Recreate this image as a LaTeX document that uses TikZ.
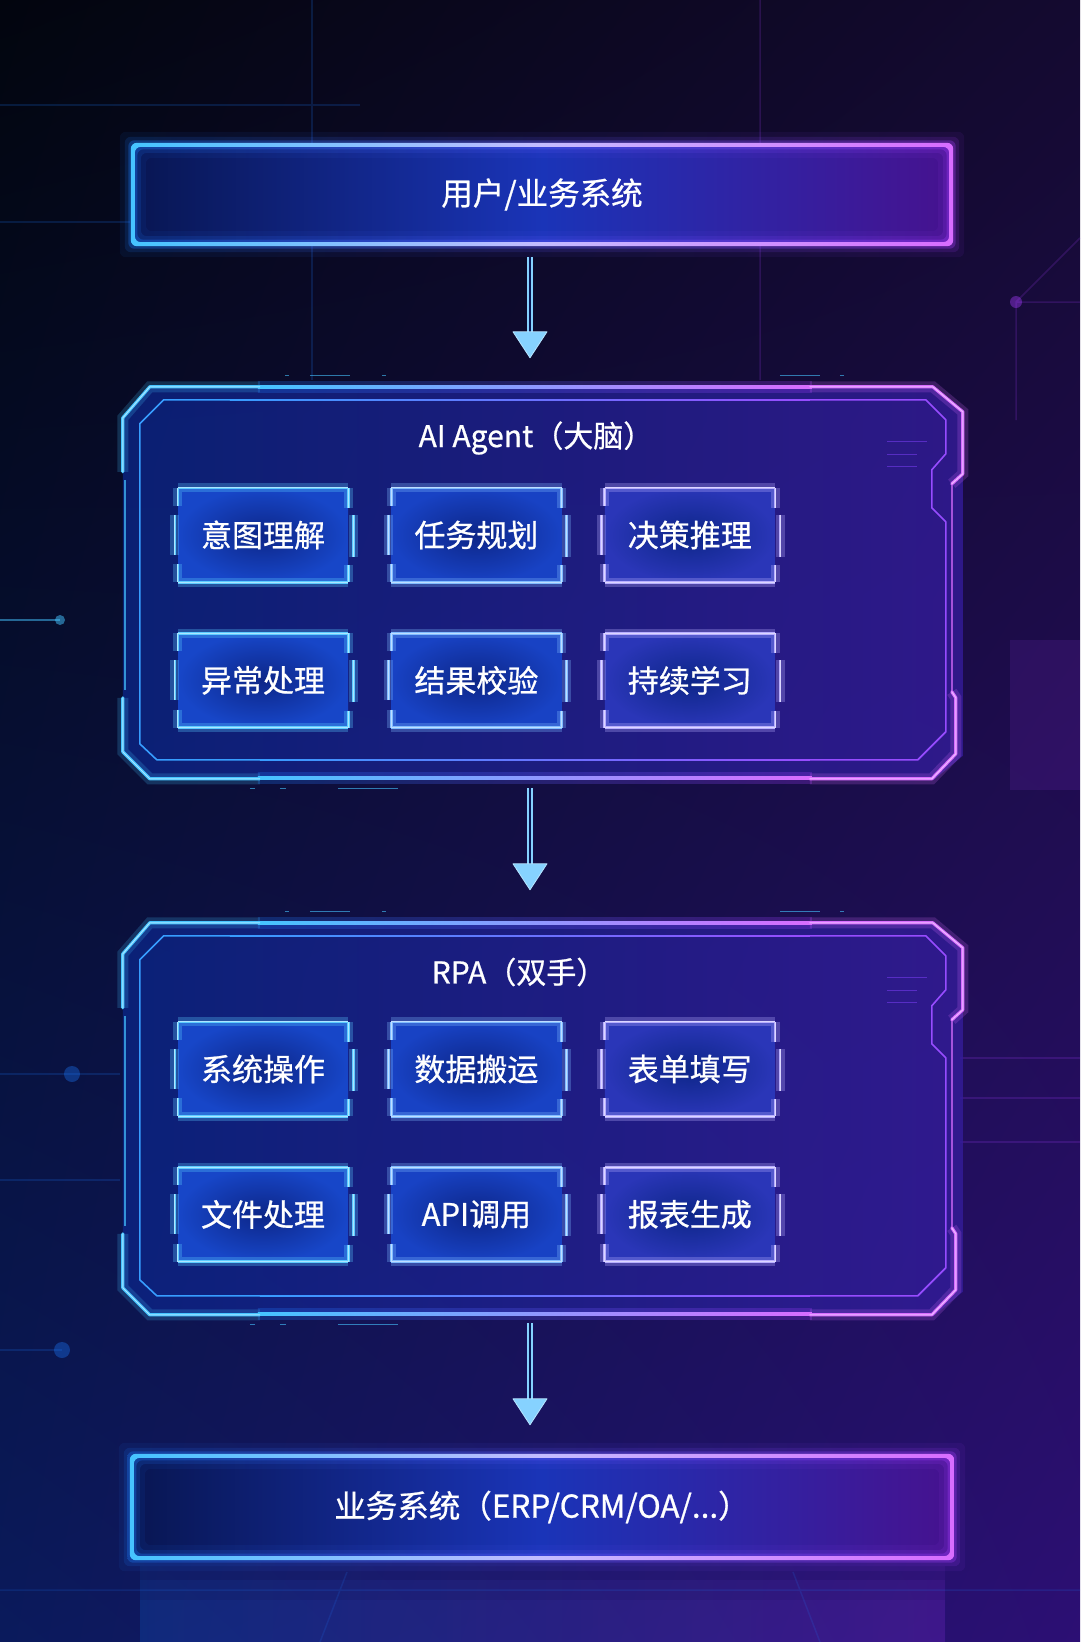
\documentclass[tikz,border=0pt]{standalone}
\usepackage{fontspec}
\newfontfamily\cjk{Noto Sans CJK SC}[FakeBold=0.7]
\usetikzlibrary{positioning,calc,shadings}
\definecolor{bgul}{HTML}{02050E}
\definecolor{bgur}{HTML}{140A30}
\definecolor{bgll}{HTML}{0A1A5C}
\definecolor{bglr}{HTML}{2C0F74}
\definecolor{neonl}{HTML}{45C4FF}
\definecolor{neonr}{HTML}{D86CFF}
\definecolor{glowl}{HTML}{1C7CFF}
\definecolor{glowr}{HTML}{A63CFF}
\definecolor{barl}{HTML}{081652}
\definecolor{barm}{HTML}{1A34B8}
\definecolor{barr}{HTML}{46128F}
\definecolor{hudl}{HTML}{0B2585}
\definecolor{hudr}{HTML}{341C9A}
\definecolor{cellin}{HTML}{0D2688}
\definecolor{cellA}{HTML}{1746C8}
\definecolor{cellB}{HTML}{1842C4}
\definecolor{cellC}{HTML}{2A36B8}
\definecolor{lineA}{HTML}{5CCBFF}
\definecolor{lineB}{HTML}{80BCFF}
\definecolor{lineC}{HTML}{B8AEFF}
\definecolor{tipblue}{HTML}{86D2FF}

\tikzset{
  hudglow/.style={draw=#1, line width=3.2pt, line join=round, line cap=round,
    preaction={draw=#1, line width=11pt, draw opacity=.2},
    postaction={draw=white, line width=1pt, draw opacity=.55}},
  hudthin/.style={draw=#1, line width=1.6pt, line join=round},
  hud/.pic={
    % panel
    \shade[left color=hudl, right color=hudr, opacity=.8]
      (3,34) -- (30,3) -- (813,3) -- (843,28) -- (843,372) -- (814,396) -- (30,396) -- (3,368) -- cycle;
    % long edges
    \shade[left color=glowl, right color=glowr, opacity=.25] (138,-2) rectangle (692,9);
    \shade[left color=glowl, right color=glowr, opacity=.25] (138,389) rectangle (692,400);
    \shade[left color=neonl, right color=neonr] (138,2) rectangle (692,5);
    \shade[left color=neonl, right color=neonr] (138,393) rectangle (692,396);
    \shade[left color=neonl!80!blue, right color=neonr!70!blue] (110,15.2) rectangle (690,16.8);
    \shade[left color=neonl!80!blue, right color=neonr!70!blue] (140,375.2) rectangle (690,376.8);
    % inner line
    \draw[hudthin=neonl!80!blue] (111,16) -- (44,16) -- (20,40) -- (20,360) -- (37,376) -- (141,376);
    \draw[hudthin=neonr!70!blue] (689,16) -- (806,16) -- (826,36) -- (826,70) -- (812,86) -- (812,124)
      -- (826,138) -- (826,348) -- (798,376) -- (689,376);
    % outer sides
    \draw[hudthin=neonl, draw opacity=.7] (5,96) -- (5,306);
    \draw[hudthin=neonr, draw opacity=.7] (832,100) -- (832,308);
    % corners
    \draw[hudglow=neonl] (3,88) -- (3,34) -- (30,3) -- (140,3);
    \draw[hudglow=neonl] (3,314) -- (3,368) -- (30,395) -- (140,395);
    \draw[hudglow=neonr] (690,3) -- (813,3) -- (843,28) -- (843,90) -- (832,100);
    \draw[hudglow=neonr] (832,308) -- (836,314) -- (836,370) -- (812,395) -- (690,395);
    % specks
    \draw[neonl, line width=1.2pt, opacity=.6] (165,-8) -- ++(4,0) (190,-8) -- ++(40,0) (262,-8) -- ++(4,0)
      (660,-8) -- ++(40,0) (720,-8) -- ++(4,0) (130,405) -- ++(5,0) (160,405) -- ++(6,0) (218,405) -- ++(60,0);
    \draw[neonr!60!blue, line width=1.2pt, opacity=.5] (767,58) -- ++(40,0) (767,71) -- ++(30,0) (767,83) -- ++(30,0);
  }
}

\begin{document}
\begin{tikzpicture}[x=1pt, y=-1pt,
  bar/.style={minimum width=818pt, minimum height=99pt, inner sep=0pt, rounded corners=6pt,
    left color=barl, right color=barr, middle color=barm,
    text=white, font=\cjk\fontsize{31.5}{36}\selectfont},
  panel/.style={minimum width=844pt, minimum height=398pt, inner sep=0pt},
  title/.style={text=white, font=\cjk\fontsize{30}{34}\selectfont},
  cell/.style={inner color=cellin, outer color=#1, minimum width=170pt, minimum height=94pt,
    inner sep=0pt, text=white, font=\cjk\fontsize{31}{36}\selectfont},
  cellglow/.style={draw=#1, line width=2.6pt,
    preaction={draw=#1, line width=9pt, draw opacity=.3},
    postaction={draw=white, line width=.8pt, draw opacity=.5}},
  shaft/.style={draw=tipblue, line width=1.4pt, double=barl, double distance=2.6pt},
  tip/.style={fill=tipblue, draw=tipblue!60!white, line width=.8pt, line join=round},
  trace/.style={draw=#1, line width=1.5pt, opacity=.18},
]
\useasboundingbox (0,0) rectangle (1080,1642);

% backdrop
\shade[upper left=bgul, upper right=bgur, lower left=bgll, lower right=bglr] (0,0) rectangle (1080,1642);
\draw[trace=glowl] (312,0) -- (312,380) (0,105) -- (360,105) (0,222) -- (130,222);
\draw[trace=glowr] (760,0) -- (760,380) (1080,238) -- (1016,302) -- (1016,420) (1016,302) -- (1080,302);
\fill[glowr, opacity=.4] (1016,302) circle (6);
\draw[trace=neonl, opacity=.5] (0,620) -- (60,620);
\fill[neonl, opacity=.5] (60,620) circle (5);
\fill[glowl, opacity=.35] (72,1074) circle (8) (62,1350) circle (8);
\draw[trace=glowl] (0,1074) -- (120,1074) (0,1180) -- (120,1180) (0,1350) -- (62,1350);
\draw[trace=glowr] (960,1058) -- (1080,1058) (960,1098) -- (1080,1098) (960,1142) -- (1080,1142);
\fill[glowr, opacity=.12] (1010,640) rectangle (1080,790);
\foreach \h/\o in {1566/.07, 1580/.07, 1600/.06} {
  \shade[left color=glowl, right color=glowr, opacity=\o] (140,\h) rectangle (945,1642);
}
\draw[trace=glowl, opacity=.15] (0,1590) -- (1080,1590) (347,1572) -- (320,1642) (793,1572) -- (820,1642);

% panels
\node[panel] (agent) at (542,583) {};
\pic at (agent.north west) {hud};
\node[panel] (rpa) at (542,1119) {};
\pic at (rpa.north west) {hud};

\node[title] (agenttitle) at (536,438) {AI Agent（大脑）};
\node[title] (rpatitle) at (519,972) {RPA（双手）};

% agent cells
\node[cell=cellA] (a1) at (263,535) {意图理解};
\node[cell=cellB, right=43pt of a1] (a2) {任务规划};
\node[cell=cellC, right=43pt of a2] (a3) {决策推理};
\node[cell=cellA, below=51pt of a1] (a4) {异常处理};
\node[cell=cellB, right=43pt of a4] (a5) {结果校验};
\node[cell=cellC, right=43pt of a5] (a6) {持续学习};

% rpa cells
\node[cell=cellA] (r1) at (263,1069) {系统操作};
\node[cell=cellB, right=43pt of r1] (r2) {数据搬运};
\node[cell=cellC, right=43pt of r2] (r3) {表单填写};
\node[cell=cellA, below=51pt of r1] (r4) {文件处理};
\node[cell=cellB, right=43pt of r4] (r5) {API调用};
\node[cell=cellC, right=43pt of r5] (r6) {报表生成};

\foreach \n/\c in {a1/lineA, a2/lineB, a3/lineC, a4/lineA, a5/lineB, a6/lineC,
                   r1/lineA, r2/lineB, r3/lineC, r4/lineA, r5/lineB, r6/lineC} {
  \draw[cellglow=\c] (\n.north west) -- (\n.north east) (\n.south west) -- (\n.south east)
    (\n.north west) -- ++(0,18) ($(\n.north west)+(-3,27)$) -- ++(0,40) ($(\n.south west)+(0,-18)$) -- (\n.south west)
    (\n.north east) -- ++(0,20) ($(\n.north east)+(5,27)$) -- ++(0,42) ($(\n.south east)+(0,-17)$) -- (\n.south east);
}

% bars
\node[bar] (user) at (542,194.5) {用户/业务系统};
\node[bar, minimum width=820pt, minimum height=102pt] (sys) at (542,1507) {业务系统（ERP/CRM/OA/...）};

\foreach \b in {user,sys} {
  \foreach \g/\o in {13/.07, 8/.14, 4.5/.3} {
    \shade[left color=glowl, right color=glowr, opacity=\o, even odd rule, rounded corners=6pt]
      ($(\b.north west)+(-\g,-\g)$) rectangle ($(\b.south east)+(\g,\g)$)
      ($(\b.north west)+(\g,\g)$) rectangle ($(\b.south east)+(-\g,-\g)$);
  }
  \shade[left color=neonl, right color=neonr, middle color=neonl!40!neonr!60!white, even odd rule, rounded corners=6pt]
    ($(\b.north west)+(-2,-2)$) rectangle ($(\b.south east)+(2,2)$)
    ($(\b.north west)+(2,2)$) rectangle ($(\b.south east)+(-2,-2)$);
}

% arrows
\draw[shaft] ([xshift=-12pt,yshift=-13pt]user.south) -- ([xshift=-12pt,yshift=52pt]agent.north);
\fill[tip] ([xshift=-12pt,yshift=26pt]agent.north) -- ++(-17,-26) -- ++(34,0) -- cycle;
\draw[shaft] ([xshift=-12pt,yshift=-6pt]agent.south) -- ([xshift=-12pt,yshift=56pt]rpa.north);
\fill[tip] ([xshift=-12pt,yshift=30pt]rpa.north) -- ++(-17,-26) -- ++(34,0) -- cycle;
\draw[shaft] ([xshift=-12pt,yshift=-5pt]rpa.south) -- ([xshift=-12pt,yshift=57pt]sys.north);
\fill[tip] ([xshift=-12pt,yshift=31pt]sys.north) -- ++(-17,-26) -- ++(34,0) -- cycle;
\end{tikzpicture}
\end{document}
